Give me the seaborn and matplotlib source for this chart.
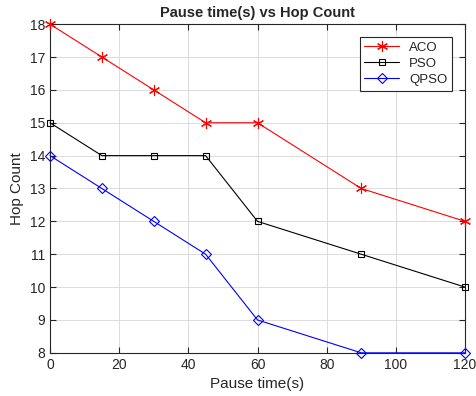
import pandas as pd
import seaborn as sns
import matplotlib.pyplot as plt

# data
pause_time = [0, 15, 30, 45, 60, 90, 120]
aco_hops = [18, 17, 16, 15, 15, 13, 12]
pso_hops = [15, 14, 14, 14, 12, 11, 10]
qpso_hops = [14, 13, 12, 11, 9, 8, 8]
series_names = ["ACO", "PSO", "QPSO"]
x_ticks = [0, 20, 40, 60, 80, 100, 120]
y_ticks = [8, 9, 10, 11, 12, 13, 14, 15, 16, 17, 18]

sns.set_style("ticks")
plt.rcParams["font.family"] = ["Liberation Sans", "DejaVu Sans"]


def main():
    fig = plt.figure(figsize=(4.76, 3.96), dpi=100)
    ax = fig.add_axes([0.105, 0.109, 0.872, 0.830])

    styles = [("red", (6, 2, 0), 8), ("black", "s", 5), ("blue", "D", 5.5)]
    for name, hops, (col, mk, ms) in zip(
            series_names, [aco_hops, pso_hops, qpso_hops], styles):
        df = pd.DataFrame({"Pause": pause_time, "Hops": hops})
        sns.lineplot(data=df, x="Pause", y="Hops", color=col, marker=mk,
                     markersize=ms, markerfacecolor="none",
                     markeredgecolor=col, markeredgewidth=0.8,
                     linewidth=0.8, label=name, clip_on=False, zorder=3,
                     ax=ax)

    ax.set_xlim(0, 120)
    ax.set_ylim(8, 18)
    ax.set_xticks(x_ticks)
    ax.set_yticks(y_ticks)
    ax.grid(True, color="#dcdcdc", linewidth=0.7)
    ax.tick_params(direction="in", length=4, labelsize=10, colors="#262626",
                   top=True, right=True)
    for spine in ax.spines.values():
        spine.set_visible(True)
        spine.set_color("#262626")
        spine.set_linewidth(0.8)
    ax.set_title("Pause time(s) vs Hop Count", fontsize=10.5,
                 fontweight="bold", pad=5)
    ax.set_xlabel("Pause time(s)", fontsize=11, color="#262626")
    ax.set_ylabel("Hop Count", fontsize=11, color="#262626")

    leg = ax.legend(loc="upper right", bbox_to_anchor=(0.969, 0.962),
                    borderaxespad=0, fontsize=9.5, fancybox=False,
                    edgecolor="#262626", framealpha=1, handlelength=2.6,
                    borderpad=0.35, labelspacing=0.3)
    leg.get_frame().set_linewidth(0.8)

    fig.savefig("out.png", dpi=100)


if __name__ == "__main__":
    main()
